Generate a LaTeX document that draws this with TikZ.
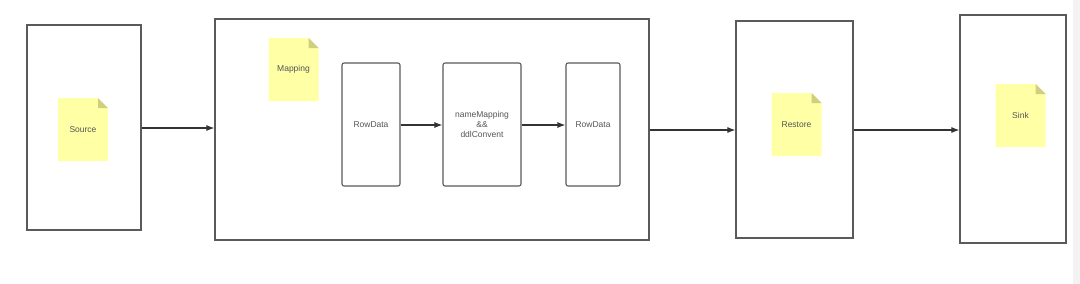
\documentclass[tikz,border=0pt]{standalone}
\usepackage{fontspec}
\setmainfont{Liberation Sans}
\usetikzlibrary{arrows.meta}
\definecolor{linegray}{HTML}{5A5A5A}
\definecolor{arrowgray}{HTML}{333333}
\definecolor{textgray}{HTML}{555555}
\definecolor{notefill}{HTML}{FFFFA6}
\definecolor{foldfill}{HTML}{CFCF7E}
\definecolor{stripgray}{HTML}{F3F3F3}
\begin{document}
\begin{tikzpicture}[x=1pt,y=1pt,
  every node/.style={font=\fontsize{8.5}{10}\selectfont, text=textgray, inner sep=0pt},
  stage/.style={draw=linegray, line width=1.15pt, fill=none},
  inner/.style={draw=linegray, line width=1.1pt, rounded corners=2pt, align=center},
  note/.style={minimum width=50pt, minimum height=63pt,
    path picture={
      \fill[notefill] (path picture bounding box.south west) -- (path picture bounding box.south east)
        -- ([yshift=-10pt]path picture bounding box.north east) -- ([xshift=-10pt]path picture bounding box.north east)
        -- (path picture bounding box.north west) -- cycle;
      \fill[foldfill] ([xshift=-10pt]path picture bounding box.north east) -- ([xshift=-10pt,yshift=-10pt]path picture bounding box.north east)
        -- ([yshift=-10pt]path picture bounding box.north east) -- cycle;
    }},
  conn/.style={draw=arrowgray, line width=1.1pt, -{Latex[length=8pt,width=6pt]}}
]
\useasboundingbox (0,0) rectangle (1080,-284);
\fill[white] (0,0) rectangle (1080,-284);
\fill[stripgray] (1073,0) rectangle (1080,-284);

% stage boxes
\node[stage, minimum width=114pt, minimum height=205pt] (source) at (84,-127.5) {};
\node[stage, minimum width=434pt, minimum height=221pt] (mapping) at (432,-129.5) {};
\node[stage, minimum width=117pt, minimum height=217pt] (restore) at (794.5,-129.5) {};
\node[stage, minimum width=106pt, minimum height=228pt] (sink) at (1013,-129) {};

% notes
\node[note] (sourcenote) at (83,-129.5) {Source};
\node[note] (mappingnote) at (293.5,-69.5) {Mapping};
\node[note] (restorenote) at (796.5,-124.5) {Restore};
\node[note] (sinknote) at (1020.5,-115.5) {Sink};

% inner boxes
\node[inner, minimum width=58pt, minimum height=123pt] (row1) at (371,-124.5) {RowData};
\node[inner, minimum width=78pt, minimum height=123pt] (nm) at (482,-124.5) {nameMapping\\\&\&\\ddlConvent};
\node[inner, minimum width=54pt, minimum height=123pt] (row2) at (593,-124.5) {RowData};

% connectors
\draw[conn] (source.east |- 0,-128) -- (mapping.west |- 0,-128);
\draw[conn] (row1.east |- 0,-125) -- (nm.west |- 0,-125);
\draw[conn] (nm.east |- 0,-125) -- (row2.west |- 0,-125);
\draw[conn] (mapping.east |- 0,-130) -- (restore.west |- 0,-130);
\draw[conn] (restore.east |- 0,-130) -- (sink.west |- 0,-130);
\end{tikzpicture}
\end{document}
